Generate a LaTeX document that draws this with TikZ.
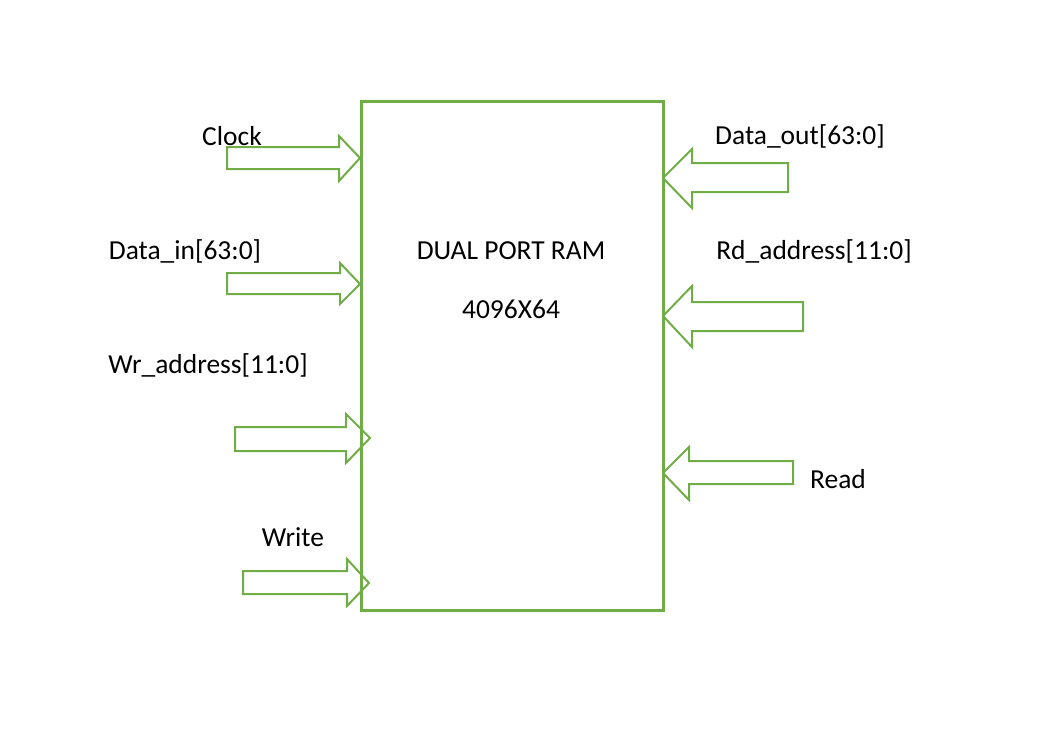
\documentclass[tikz,border=0pt]{standalone}
\usepackage{fontspec}
\setmainfont{Carlito}
\definecolor{ramgreen}{RGB}{112,173,71}

\begin{document}
\begin{tikzpicture}[x=0.75pt, y=-0.75pt,
                    ramnode/.style={rectangle, draw=ramgreen, line width=2.25pt, minimum width=226.5pt, minimum height=381.75pt},
                    portarrow/.style={draw=ramgreen, line width=1.5pt, line join=miter},
                    portlabel/.style={inner sep=0pt, font=\fontsize{20.6}{24}\selectfont},]
    \useasboundingbox (0,0) rectangle (1037,753);
    % block
    \node[ramnode]   (ram)    at (512,355.5)   {};
    \node[portlabel] (name)   at (511,251)     {DUAL PORT RAM};
    \node[portlabel] (size)   at (511,309)     {4096X64};
    % labels
    \node[portlabel] (clk)    at (232,136)     {Clock};
    \node[portlabel] (din)    at (185,251)     {Data\_in[63:0]};
    \node[portlabel] (wra)    at (208,365)     {Wr\_address[11:0]};
    \node[portlabel] (wr)     at (293,537)     {Write};
    \node[portlabel] (dout)   at (800,136)     {Data\_out[63:0]};
    \node[portlabel] (rda)    at (814,251)     {Rd\_address[11:0]};
    \node[portlabel] (rd)     at (838,479)     {Read};
    % arrows: tail/shaft top/shaft bottom/head base/head top/head bottom/tip x/tip y
    \foreach \t/\st/\sb/\hb/\ht/\hbt/\tx/\ty in {227/147/169/339/136/181/360/158,
                                                 227/273/294/340/263/304/360/284,
                                                 235/427/451/346/414/463/370/438,
                                                 243/571/594/347/559/606/369/583,
                                                 788/163/192/692/149/208/663/178,
                                                 803/302/331/692/286/347/663/316,
                                                 793/461/484/689/447/500/663/473}
        \draw[portarrow] (\t,\st) -- (\hb,\st) -- (\hb,\ht) -- (\tx,\ty) -- (\hb,\hbt) -- (\hb,\sb) -- (\t,\sb) -- cycle;
\end{tikzpicture}
\end{document}
